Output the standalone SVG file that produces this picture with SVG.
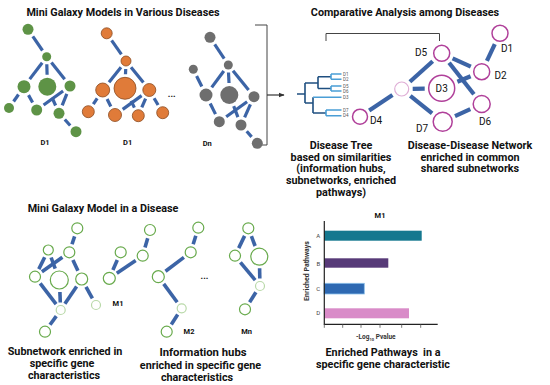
<svg xmlns="http://www.w3.org/2000/svg" width="550" height="385" viewBox="0 0 550 385">
<style>
text{font-family:Roboto,"Liberation Sans",sans-serif;fill:#111}
.t{font-weight:700;font-size:10.8px;text-anchor:middle}
.lb{font-weight:700;font-size:10.8px;text-anchor:middle}
.sm{font-weight:700;font-size:7.5px;text-anchor:middle}
.dl{font-size:10px}
.tl{font-size:4.5px;fill:#555}
.e{stroke:#3c64a6;stroke-width:3.2;stroke-linecap:butt;fill:none}
.eb{stroke:#3c64a6;stroke-width:3.6;fill:none}
.en{stroke:#3c64a6;stroke-width:4.2;fill:none}
.g{fill:#5e9346}
.o{fill:#e07b39;stroke:#8a4a20;stroke-width:0.8}
.k{fill:#6e6e6e}
.w{fill:#fff;stroke:#68aa4c;stroke-width:1.2}
.wp{fill:#fff;stroke:#b9d9a9;stroke-width:1.2}
.n{fill:#fff;stroke:#b0409a;stroke-width:1.5}
.np{fill:#fff;stroke:#dfaed6;stroke-width:1.2}
.br{stroke:#444;stroke-width:1;fill:none}
.td{stroke:#1f4f80;stroke-width:1.6;fill:none}
.tlf{stroke:#4a9ed6;stroke-width:1.6;fill:none}
.ax{stroke:#222;stroke-width:1.2;fill:none}
.bl{font-size:6px;fill:#444;text-anchor:middle}
</style>
<defs>
<marker id="ah" viewBox="0 0 10 10" refX="9" refY="5" markerWidth="5" markerHeight="5" orient="auto"><path d="M0,1 L10,5 L0,9 z" fill="#333"/></marker>
</defs>

<text class="t" x="123" y="16">Mini Galaxy Models in Various Diseases</text>
<text class="t" x="405" y="16">Comparative Analysis among Diseases</text>
<text class="t" x="103" y="211.5">Mini Galaxy Model in a Disease</text>

<g id="connectors">
<line class="e" x1="32.8" y1="36.3" x2="42.5" y2="50.5"/>
<line class="e" x1="42.2" y1="62.7" x2="29.7" y2="79.1"/>
<line class="e" x1="46.8" y1="64.2" x2="47.1" y2="74.7"/>
<line class="e" x1="51.4" y1="62.6" x2="64.7" y2="79.3"/>
<line class="e" x1="18.5" y1="94.5" x2="13.6" y2="101.5"/>
<line class="e" x1="28.5" y1="95.1" x2="32.6" y2="102.5"/>
<line class="e" x1="63.1" y1="91" x2="43.6" y2="105"/>
<line class="e" x1="52.1" y1="97.7" x2="55.6" y2="105.5"/>
<line class="e" x1="66.8" y1="93.9" x2="62.2" y2="105.4"/>
<line class="e" x1="64.8" y1="119.5" x2="70.2" y2="125.5"/>
<line class="e" x1="111.6" y1="40.3" x2="121.4" y2="54.4"/>
<line class="e" x1="121" y1="67.2" x2="109" y2="82.2"/>
<line class="e" x1="125.7" y1="69" x2="125.5" y2="74.3"/>
<line class="e" x1="131" y1="67.2" x2="143.4" y2="82.6"/>
<line class="e" x1="97.2" y1="98.3" x2="93.3" y2="104.2"/>
<line class="e" x1="107.1" y1="99" x2="110.8" y2="106.5"/>
<line class="e" x1="141.6" y1="95.6" x2="122.7" y2="109.4"/>
<line class="e" x1="131.1" y1="100.9" x2="134.4" y2="107.6"/>
<line class="e" x1="145.6" y1="98.7" x2="141.8" y2="107.4"/>
<line class="e" x1="154.1" y1="98.2" x2="158.1" y2="105"/>
<line class="e" x1="214.7" y1="44.4" x2="224.2" y2="58.7"/>
<line class="e" x1="196.6" y1="76" x2="201.8" y2="86.5"/>
<line class="e" x1="223.8" y1="71" x2="211.7" y2="87.4"/>
<line class="e" x1="228.5" y1="72.5" x2="229" y2="83"/>
<line class="e" x1="233" y1="70.8" x2="248.6" y2="90.1"/>
<line class="e" x1="210.2" y1="103.5" x2="215.5" y2="114.1"/>
<line class="e" x1="247.1" y1="101.7" x2="226.2" y2="116.7"/>
<line class="e" x1="250.4" y1="104.4" x2="244.6" y2="117.3"/>
<line class="e" x1="233.7" y1="106.2" x2="237.9" y2="117.1"/>
<line class="e" x1="246.7" y1="131.3" x2="251.6" y2="136.9"/>
<path class="br" d="M255,25 H267 V145 H255"/>
<line x1="267" y1="95" x2="284" y2="95" stroke="#333" stroke-width="1.2" marker-end="url(#ah)"/>
<path class="br" d="M326,41 V33.5 H439.5 V41"/>
<line class="en" x1="369.2" y1="110.6" x2="392.5" y2="95.1"/>
<line class="en" x1="409.9" y1="81.7" x2="432.7" y2="61.3"/>
<line class="en" x1="412.7" y1="88.8" x2="424.7" y2="88.6"/>
<line class="en" x1="410.3" y1="95.9" x2="432.1" y2="113.3"/>
<line class="en" x1="452.6" y1="58.3" x2="470.8" y2="66.7"/>
<line class="en" x1="449.1" y1="62.7" x2="473.9" y2="94.2"/>
<line class="en" x1="457.4" y1="81.8" x2="470.6" y2="76.3"/>
<line class="en" x1="455" y1="116.1" x2="470.3" y2="109.2"/>
<line class="en" x1="486.9" y1="60.9" x2="494.8" y2="44.1"/>
<line class="eb" x1="74.6" y1="236.4" x2="72" y2="244.2"/>
<line class="eb" x1="44.7" y1="257.2" x2="38.8" y2="269.1"/>
<line class="eb" x1="51.1" y1="257.5" x2="55.2" y2="268.7"/>
<line class="eb" x1="62.4" y1="257.2" x2="41.9" y2="271.8"/>
<line class="eb" x1="72.9" y1="260" x2="77.9" y2="270.8"/>
<line class="eb" x1="40.2" y1="283.4" x2="56.1" y2="304.1"/>
<line class="eb" x1="59.9" y1="292" x2="60.3" y2="302.5"/>
<line class="eb" x1="76.6" y1="286.5" x2="64.9" y2="303.8"/>
<line class="eb" x1="86" y1="286.9" x2="92.4" y2="298.4"/>
<line class="eb" x1="56.3" y1="316.1" x2="50" y2="324.8"/>
<line class="eb" x1="147.7" y1="238.2" x2="145" y2="247.5"/>
<line class="eb" x1="117.3" y1="260.1" x2="112.9" y2="270"/>
<line class="eb" x1="135.7" y1="260.5" x2="116.8" y2="273.3"/>
<line class="eb" x1="195.8" y1="235.8" x2="193.2" y2="244.2"/>
<line class="eb" x1="183.9" y1="257.4" x2="165.5" y2="271.3"/>
<line class="eb" x1="163.7" y1="283.9" x2="177.2" y2="302.3"/>
<line class="eb" x1="177.7" y1="314.6" x2="171.3" y2="324.5"/>
<line class="eb" x1="244.6" y1="235.9" x2="238.7" y2="248.1"/>
<line class="eb" x1="251.4" y1="236.2" x2="255.1" y2="246"/>
<line class="eb" x1="240.4" y1="262.3" x2="255.2" y2="280.2"/>
<line class="eb" x1="259.6" y1="268.2" x2="259.8" y2="278.5"/>
<line class="eb" x1="255.9" y1="292.3" x2="249.6" y2="302.2"/>
</g>

<g id="galaxy-green">
<circle class="g" cx="28" cy="29.3" r="5.5"/>
<circle class="g" cx="46.7" cy="56.7" r="4.5"/>
<circle class="g" cx="24" cy="86.7" r="6.5"/>
<circle class="g" cx="47.3" cy="86.7" r="9"/>
<circle class="g" cx="70" cy="86" r="5.5"/>
<circle class="g" cx="9" cy="108" r="5"/>
<circle class="g" cx="36.7" cy="110" r="5.5"/>
<circle class="g" cx="59" cy="113.3" r="5.5"/>
<circle class="g" cx="76" cy="131.7" r="5.5"/>
<text class="sm" x="45" y="144.5">D1</text>
</g>
<g id="galaxy-orange">
<circle class="o" cx="106.7" cy="33.3" r="5.5"/>
<circle class="o" cx="126" cy="61" r="5"/>
<circle class="o" cx="102.7" cy="90" r="7"/>
<circle class="o" cx="125" cy="88.3" r="11"/>
<circle class="o" cx="149.3" cy="90" r="6.5"/>
<circle class="o" cx="88.3" cy="111.7" r="6"/>
<circle class="o" cx="115" cy="115" r="6.5"/>
<circle class="o" cx="138.3" cy="115.7" r="6"/>
<circle class="o" cx="162.7" cy="112.7" r="6"/>
<text class="sm" x="127.7" y="144.5">D1</text>
</g>
<text id="dots-top" class="sm" x="171.7" y="97" style="font-size:9px">...</text>
<g id="galaxy-gray">
<circle class="k" cx="210" cy="37.3" r="5.5"/>
<circle class="k" cx="228.3" cy="65" r="4.5"/>
<circle class="k" cx="193.3" cy="69.3" r="4.5"/>
<circle class="k" cx="206" cy="95" r="6.5"/>
<circle class="k" cx="229.3" cy="95" r="9"/>
<circle class="k" cx="254" cy="96.7" r="5.5"/>
<circle class="k" cx="219.3" cy="121.7" r="5.5"/>
<circle class="k" cx="241" cy="125" r="5.5"/>
<circle class="k" cx="257.3" cy="143.3" r="5.5"/>
<text class="sm" x="207.3" y="145.5">Dn</text>
</g>

<g id="disease-tree">
<path class="td" d="M297,94 H305 M305,83 V103 M305,83 H318 M318,76.7 V88.5 M318,76.7 H331 M318,88.5 H331 M305,103 H313 M313,97.3 V113 M313,113 H326"/>
<path class="tlf" d="M331,74 V79.3 M331,74 H341.5 M331,79.3 H341.5 M331,86 V91 M331,86 H341.5 M331,91 H341.5 M313,97.3 H341.5 M326,110 V115.7 M326,110 H341.5 M326,115.7 H341.5"/>
<text class="tl" x="343" y="75.6">D1</text>
<text class="tl" x="343" y="80.9">D2</text>
<text class="tl" x="343" y="87.6">D5</text>
<text class="tl" x="343" y="92.6">D6</text>
<text class="tl" x="343" y="98.9">D3</text>
<text class="tl" x="343" y="111.6">D7</text>
<text class="tl" x="343" y="117.3">D4</text>
<text class="lb" x="341" y="148.8">Disease Tree</text>
<text class="lb" x="341" y="160.5">based on similarities</text>
<text class="lb" x="341" y="172.2">(information hubs,</text>
<text class="lb" x="341" y="183.9">subnetworks, enriched</text>
<text class="lb" x="341" y="195.6">pathways)</text>
</g>

<g id="hub"><circle class="np" cx="401.7" cy="89" r="7"/></g>
<g id="D4"><circle class="n" cx="360" cy="116.7" r="7.5"/><text class="dl" x="370" y="124">D4</text></g>
<g id="D5"><circle class="n" cx="441.7" cy="53.3" r="8"/><text class="dl" x="415" y="56">D5</text></g>
<g id="D3"><circle class="n" cx="441.7" cy="88.3" r="13"/><text class="dl" x="441.7" y="92" text-anchor="middle">D3</text></g>
<g id="D7"><circle class="n" cx="442.7" cy="121.7" r="9.5"/><text class="dl" x="416" y="132">D7</text></g>
<g id="D2"><circle class="n" cx="481.7" cy="71.7" r="8"/><text class="dl" x="494.5" y="78.5">D2</text></g>
<g id="D6"><circle class="n" cx="481.7" cy="104" r="8.5"/><text class="dl" x="479" y="124.5">D6</text></g>
<g id="D1"><circle class="n" cx="500" cy="33.3" r="8"/><text class="dl" x="501" y="52">D1</text></g>
<g id="network-label">
<text class="lb" x="470" y="148.8">Disease-Disease Network</text>
<text class="lb" x="470" y="160.5">enriched in common</text>
<text class="lb" x="470" y="172.2">shared subnetworks</text>
</g>

<g id="subnetwork">
<circle class="w" cx="77.3" cy="228.3" r="5.5"/>
<circle class="w" cx="48.3" cy="250" r="5"/>
<circle class="w" cx="69.3" cy="252.3" r="5.5"/>
<circle class="w" cx="35" cy="276.7" r="5.5"/>
<circle class="w" cx="59.3" cy="280" r="9"/>
<circle class="w" cx="81.7" cy="279" r="6"/>
<circle class="wp" cx="60.7" cy="310" r="4.5"/>
<circle class="wp" cx="96" cy="305" r="4.5"/>
<circle class="w" cx="45" cy="331.7" r="5.5"/>
<text class="lb" x="65" y="354.5">Subnetwork enriched in</text>
<text class="lb" x="62" y="367">specific gene</text>
<text class="lb" x="64" y="379.2">characteristics</text>
</g>
<g id="M1">
<circle class="w" cx="150" cy="230" r="5.5"/>
<circle class="w" cx="142.7" cy="255.7" r="5.5"/>
<circle class="w" cx="120.7" cy="252.3" r="5.5"/>
<circle class="w" cx="109.3" cy="278.3" r="6"/>
<text class="sm" x="118" y="305.5">M1</text>
</g>
<g id="M2">
<circle class="w" cx="198.3" cy="227.7" r="5.5"/>
<circle class="w" cx="190.7" cy="252.3" r="5.5"/>
<circle class="w" cx="158.3" cy="276.7" r="6"/>
<circle class="wp" cx="181.7" cy="308.3" r="4.5"/>
<circle class="w" cx="166.7" cy="331.7" r="5.5"/>
<text class="sm" x="189" y="333.5">M2</text>
</g>
<text id="dots-bottom" class="sm" x="204.5" y="279" style="font-size:9px">...</text>
<g id="Mn">
<circle class="w" cx="248.3" cy="228.3" r="5.5"/>
<circle class="w" cx="235" cy="255.7" r="5.5"/>
<circle class="w" cx="259.3" cy="256.7" r="8.5"/>
<circle class="wp" cx="260" cy="286" r="4.5"/>
<circle class="w" cx="245" cy="309.3" r="5.5"/>
<text class="sm" x="246.7" y="334">Mn</text>
</g>
<g id="hubs-label">
<text class="lb" x="203" y="355.5" style="font-size:11.3px">Information hubs</text>
<text class="lb" x="200.5" y="368.5">enriched in specific gene</text>
<text class="lb" x="197" y="380.5">characteristics</text>
</g>

<g id="bar-chart">
<text class="sm" x="380" y="218.2">M1</text>
<rect x="324" y="230.7" width="97.7" height="10" fill="#15788f"/>
<rect x="324" y="258.3" width="64.3" height="9.4" fill="#573a78"/>
<rect x="324" y="283.3" width="40.3" height="10.7" fill="#2e69b2" stroke="#8cc0ea" stroke-width="0.8"/>
<rect x="324" y="308.3" width="85" height="10" fill="#d98bc8"/>
<path class="ax" d="M324.3,221 V324.3 H437.7"/>
<path stroke="#555" stroke-width="0.8" d="M324.3,324.3 v3.5 M342.7,324.3 v3.5 M361,324.3 v3.5 M380,324.3 v3.5 M401.7,324.3 v3.5 M420.7,324.3 v3.5"/>
<text class="bl" x="318.3" y="238">A</text>
<text class="bl" x="318.3" y="265.8">B</text>
<text class="bl" x="318.3" y="291">C</text>
<text class="bl" x="318.3" y="315.4">D</text>
<text transform="translate(308.5,271) rotate(-90)" text-anchor="middle" style="font-size:7px;font-weight:700;fill:#333">Enriched Pathways</text>
<text x="375.8" y="339" text-anchor="middle" style="font-size:6.5px;font-weight:700;fill:#333">-Log<tspan style="font-size:4px" dy="1.5">10</tspan><tspan dy="-1.5"> Pvalue</tspan></text>
<text class="lb" x="383" y="355.5" xml:space="preserve">Enriched Pathways  in a</text>
<text class="lb" x="383" y="367.8">specific gene characteristic</text>
</g>
</svg>
